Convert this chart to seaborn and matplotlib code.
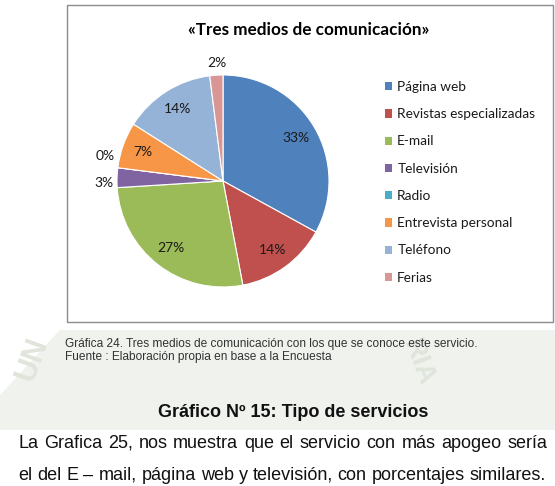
import matplotlib
matplotlib.use("Agg")
import matplotlib.pyplot as plt
import seaborn as sns
from matplotlib.patches import Rectangle, Patch, Polygon
import numpy as np

# datos del grafico
medios = ["Página web", "Revistas especializadas", "E-mail", "Televisión",
          "Radio", "Entrevista personal", "Teléfono", "Ferias"]
porcentajes = [33, 14, 27, 3, 0, 7, 14, 2]
colores = ["#4F81BD", "#C0504D", "#9BBB59", "#8064A2",
           "#4BACC6", "#F79646", "#95B3D7", "#D99694"]

titulo = "«Tres medios de comunicación»"
pie_1 = "Gráfica 24. Tres medios de comunicación con los que se conoce este servicio."
pie_2 = "Fuente : Elaboración propia en base a la Encuesta"
encabezado = "Gráfico Nº 15: Tipo de servicios"
parrafo = ["La Grafica 25, nos muestra que el servicio con más apogeo sería",
           "el del E – mail, página web y televisión, con porcentajes similares."]

sns.set_theme(style="white")
plt.rcParams['font.family'] = ['Lato', 'DejaVu Sans']
palette = sns.color_palette(colores)

W, H = 555, 486
fig = plt.figure(figsize=(W / 100, H / 100), dpi=100)
fig.patch.set_facecolor("white")


def px(x, y):
    return (x / W, 1 - y / H)


# marca de agua tenue (escaneo)
agua = "#eff2ed"
fig.patches.append(Polygon([px(0, 395), px(60, 330), px(555, 330), px(555, 430),
                            px(0, 430)], closed=True, transform=fig.transFigure,
                           facecolor=agua, edgecolor="none", zorder=-2))
fig.text(*px(32, 360), "UN", rotation=70, ha="center", va="center", fontsize=22,
         fontweight="bold", color="#e0e5dc", family="Liberation Sans", zorder=-1)
fig.text(*px(418, 362), "RIA", rotation=-70, ha="center", va="center", fontsize=20,
         fontweight="bold", color="#e0e5dc", family="Liberation Sans", zorder=-1)

# marco del grafico
fig.patches.append(Rectangle(px(67, 322), (553 - 67) / W, (322 - 5) / H,
                             transform=fig.transFigure, facecolor="white",
                             edgecolor="#8c8c8c", linewidth=1, zorder=-1))

ax = fig.add_axes([(223 - 132.5) / W, (H - 181 - 132.5) / H, 265 / W, 265 / H])
ax.set_zorder(2)
wedges, textos, autotextos = ax.pie(
    porcentajes, colors=palette, startangle=90, counterclock=False,
    autopct="%1.0f%%", pctdistance=0.8,
    wedgeprops=dict(edgecolor="white", linewidth=0.8),
    textprops=dict(fontsize=10, color="#1a1a1a"))
ax.set_aspect("equal")

# etiquetas pequenas fuera del circulo
ajustes = {3: (0.0, -0.05), 4: (0.0, 0.10), 7: (0.01, 0.0)}
for i, (w, t) in enumerate(zip(wedges, autotextos)):
    if porcentajes[i] <= 3:
        ang = np.deg2rad((w.theta1 + w.theta2) / 2)
        dx, dy = ajustes.get(i, (0, 0))
        t.set_position((1.12 * np.cos(ang) + dx, 1.12 * np.sin(ang) + dy))

fig.text(*px(309, 30), titulo, ha="center", va="center",
         fontsize=12.3, fontweight="bold", color="black")

handles = [Patch(facecolor=c, edgecolor="none") for c in palette]
fig.legend(handles, medios, loc="upper left", bbox_to_anchor=px(385, 81),
           frameon=False, fontsize=9.8, handlelength=0.55, handleheight=0.55,
           handletextpad=0.35, labelspacing=1.12, borderpad=0, borderaxespad=0,
           labelcolor="#1a1a1a")

# textos del documento
fig.text(*px(65, 344), pie_1, ha="left", va="center", fontsize=8.6,
         family="Liberation Sans", color="#333333")
fig.text(*px(65, 357), pie_2, ha="left", va="center", fontsize=8.6,
         family="Liberation Sans", color="#333333")
fig.text(*px(293, 412), encabezado, ha="center", va="center", fontsize=13,
         fontweight="bold", family="Liberation Sans", color="#111111")

renderer = fig.canvas.get_renderer()


def justificar(linea, x0, x1, y):
    palabras = linea.split(" ")
    ts = [fig.text(0, 1 - y / H, p, ha="left", va="center", fontsize=13,
                   family="Liberation Sans", color="#111111") for p in palabras]
    anchos = [t.get_window_extent(renderer).width for t in ts]
    hueco = (x1 - x0 - sum(anchos)) / (len(palabras) - 1)
    x = x0
    for t, a in zip(ts, anchos):
        t.set_x(x / W)
        x += a + hueco


justificar(parrafo[0], 18, 547, 443)
justificar(parrafo[1], 18, 546, 475)

fig.savefig("out.png", dpi=100)
